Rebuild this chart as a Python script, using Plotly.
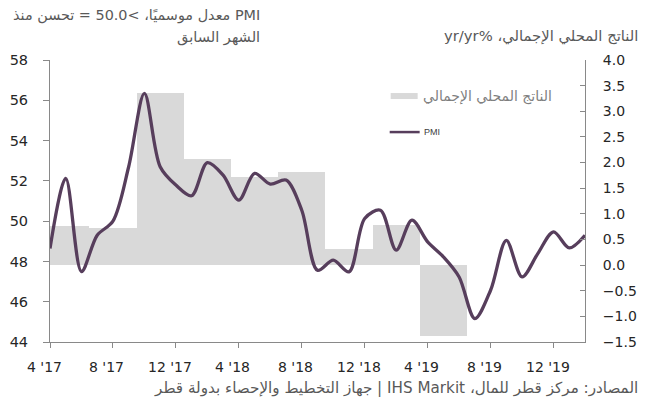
import plotly.graph_objects as go

# ---------------- data ----------------
months = ["2017-04", "2017-05", "2017-06", "2017-07", "2017-08", "2017-09", "2017-10", "2017-11", "2017-12",
          "2018-01", "2018-02", "2018-03", "2018-04", "2018-05", "2018-06", "2018-07", "2018-08", "2018-09",
          "2018-10", "2018-11", "2018-12", "2019-01", "2019-02", "2019-03", "2019-04", "2019-05", "2019-06",
          "2019-07", "2019-08", "2019-09", "2019-10", "2019-11", "2019-12", "2020-01", "2020-02"]
pmi = [48.64, 52.12, 47.5, 49.3, 50.0, 52.7, 56.34, 52.7, 51.79, 51.26, 52.9, 52.28, 51.04, 52.37,
       51.84, 52.04, 50.54, 47.56, 48.06, 47.48, 50.13, 50.54, 48.56, 50.05, 48.97, 48.23, 47.23,
       45.16, 46.57, 49.05, 47.23, 48.39, 49.47, 48.67, 49.3]
quarter_mid_month = ["2017-05", "2017-08", "2017-11", "2018-02", "2018-05", "2018-08", "2018-11", "2019-02", "2019-05"]
gdp = [0.77, 0.73, 3.35, 2.07, 1.72, 1.81, 0.31, 0.78, -1.39]
tick_months = ["2017-04", "2017-08", "2017-12", "2018-04", "2018-08", "2018-12", "2019-04", "2019-08", "2019-12"]
tick_text = ["4 '17", "8 '17", "12 '17", "4 '18", "8 '18", "12 '18", "4 '19", "8 '19", "12 '19"]

idx = {m: i for i, m in enumerate(months)}
x_pmi = [idx[m] for m in months]
x_gdp = [idx[m] for m in quarter_mid_month]
x_ticks = [idx[m] for m in tick_months]

# ---------------- layout geometry ----------------
OFF = 8  # page body margin
W, H = 651 - OFF, 403 - OFF
L, R, T, B = 50 - OFF, 585.5 - OFF, 60 - OFF, 341.7 - OFF
def xp(px):
    return (px - OFF - L) / (R - L)
def yp(py):
    return (B - (py - OFF)) / (B - T)

RLE, PDF = "\u202B", "\u202C"
FONT = "DejaVu Sans"
GRAY_TXT = "#595959"
AXIS_C = "#898989"
LINE_C = "#573e5c"
BAR_C = "#d9d9d9"
TICK_TXT = "#262626"

fig = go.Figure()
fig.add_trace(go.Bar(x=x_gdp, y=gdp, width=3, marker=dict(color=BAR_C, line=dict(width=0)),
                     yaxis="y", name="الناتج المحلي الإجمالي", showlegend=False, hoverinfo="skip"))
fig.add_trace(go.Scatter(x=x_pmi, y=pmi, mode="lines", yaxis="y2",
                         line=dict(color=LINE_C, width=3.3, shape="spline", smoothing=0.9),
                         name="PMI", showlegend=False, hoverinfo="skip"))

fig.update_layout(
    width=W, height=H,
    margin=dict(l=L, r=W - R, t=T, b=H - B, pad=0, autoexpand=False),
    paper_bgcolor="white", plot_bgcolor="white",
    font=dict(family=FONT, size=14, color=TICK_TXT),
    bargap=0,
    xaxis=dict(range=[0, len(months) - 1], tickvals=x_ticks, showticklabels=False, automargin=False,
               showgrid=False, zeroline=False, showline=True, linecolor=AXIS_C, linewidth=1,
               ticks="outside", ticklen=5, tickcolor=AXIS_C, tickwidth=1),
    yaxis=dict(range=[-1.5, 4.0], dtick=0.5, tick0=0, tickformat=".1f", side="right", automargin=False,
               showgrid=False, zeroline=False, showline=True, linecolor=AXIS_C, linewidth=1,
               ticks="inside", ticklen=5, tickcolor=AXIS_C, tickwidth=1,
               tickfont=dict(family=FONT, size=14, color=TICK_TXT), ticklabelstandoff=14),
    yaxis2=dict(range=[44, 58], dtick=2, tick0=44, side="left", overlaying="y", automargin=False,
                showgrid=False, zeroline=False, showline=True, linecolor=AXIS_C, linewidth=1,
                ticks="outside", ticklen=6, tickcolor=AXIS_C, tickwidth=1,
                tickfont=dict(family=FONT, size=14.5, color=TICK_TXT), ticklabelstandoff=12),
    showlegend=False,
    hovermode=False,
)

ann = []
# x-axis tick labels, placed on the axis scale
for tv, tt in zip(x_ticks, tick_text):
    ann.append(dict(text=tt, x=tv, xref="x", y=0, yref="paper", xanchor="center", yanchor="middle",
                    xshift=-6, yshift=-25.3, showarrow=False,
                    font=dict(family=FONT, size=14, color=TICK_TXT)))

def txt(text, x, y, xanchor, size=14, color=GRAY_TXT, family=FONT):
    ann.append(dict(text=text, x=xp(x), y=yp(y), xref="paper", yref="paper",
                    xanchor=xanchor, yanchor="middle", showarrow=False,
                    font=dict(family=family, size=size, color=color)))

txt(RLE + "PMI معدل موسميًا، >50.0 = تحسن منذ" + PDF, 262, 16, "right", size=14.4)
txt(RLE + "الشهر السابق" + PDF, 262, 37, "right", size=14.6)
txt(RLE + "الناتج المحلي الإجمالي، %yr/yr" + PDF, 641, 36, "right", size=14.8)
txt(RLE + "المصادر: مركز قطر للمال، IHS Markit | جهاز التخطيط والإحصاء بدولة قطر" + PDF, 641, 388, "right", size=15.2)
# legend
txt("الناتج المحلي الإجمالي", 421, 96, "left", size=14, color="#7f7f7f")
txt("PMI", 422, 132, "left", size=9, color="#404040", family="Liberation Sans")
fig.update_layout(annotations=ann)

fig.add_shape(type="rect", xref="paper", yref="paper", x0=xp(391), x1=xp(418), y0=yp(99), y1=yp(93),
              fillcolor=BAR_C, line=dict(width=0))
fig.add_shape(type="line", xref="paper", yref="paper", x0=xp(390), x1=xp(420), y0=yp(132), y1=yp(132),
              line=dict(color=LINE_C, width=2.5))

fig.write_html("out.html", config={"displayModeBar": False})
